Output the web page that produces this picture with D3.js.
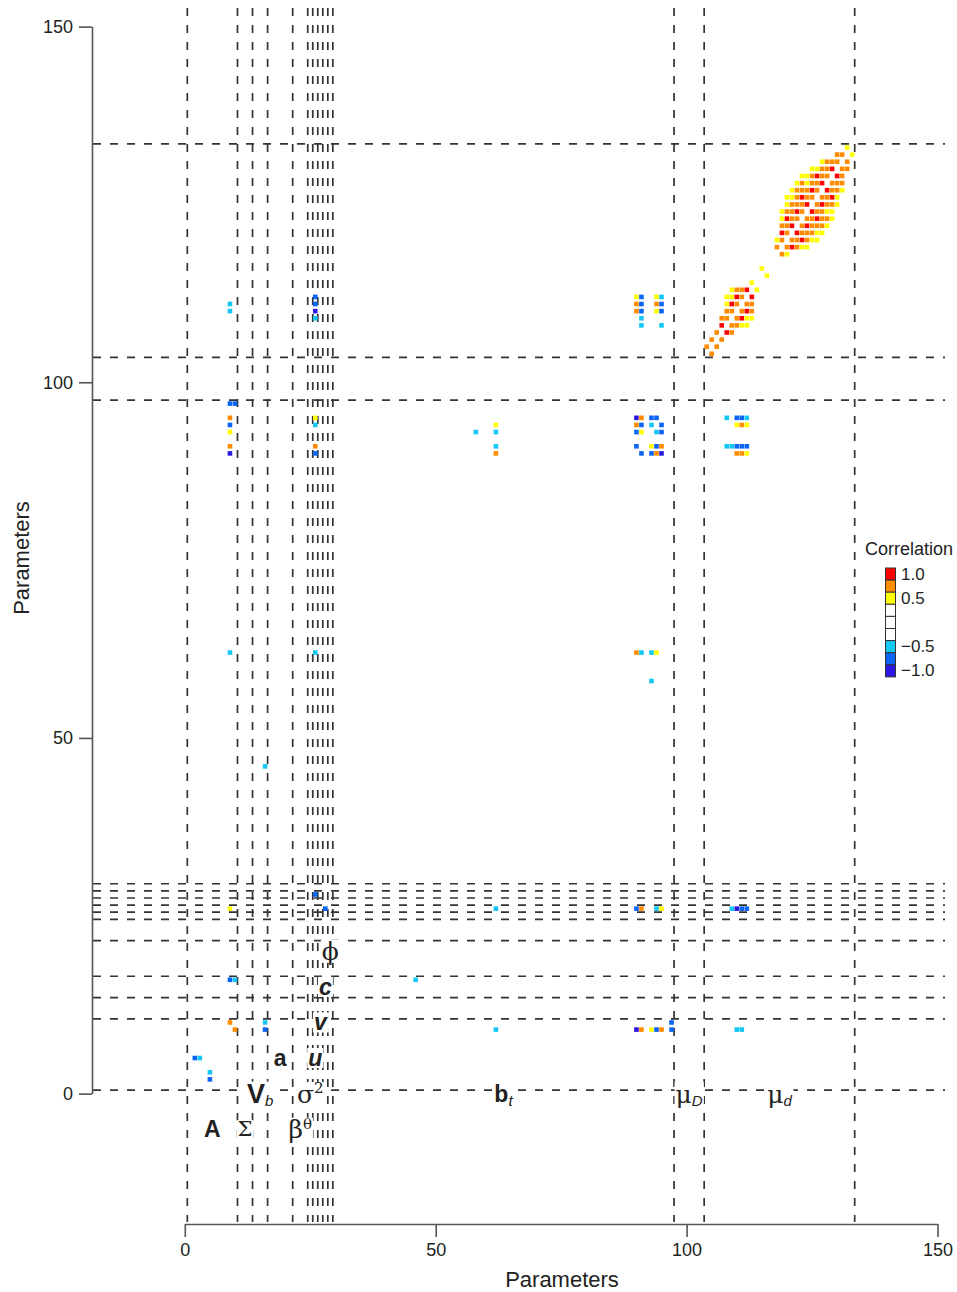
<!DOCTYPE html>
<html>
<head>
<meta charset="utf-8">
<script src="https://cdn.jsdelivr.net/npm/d3@7"></script>
<style>
  body { margin: 0; background: #fff; }
  text { font-family: "Liberation Sans", Arial, Helvetica, sans-serif; fill: #222; }
</style>
</head>
<body>
<svg id="chart" width="957" height="1292"></svg>
<script>
// parameter blocks (1-based parameter index)
const blockNames = ['A', 'Σ', 'V', 'a', 'β', 'σ', 'u', 'v', 'c', 'ϕ', 'b', 'μ', 'μ'];
const blockSub = ['', '', 'b', '', '', '', '', '', '', '', 't', 'D', 'd'];
const blockSup = ['', '', '', '', 'θ', '2', '', '', '', '', '', '', ''];
const blockFirst = [1, 11, 14, 17, 22, 25, 26, 27, 28, 29, 30, 98, 104];
const blockLast = [10, 13, 16, 21, 24, 25, 26, 27, 28, 29, 97, 103, 133];

const xTicks = [0, 50, 100, 150];
const yTicks = [0, 50, 100, 150];

const legendValues = [1.0, 0.75, 0.5, 0.25, 0, -0.25, -0.5, -0.75, -1.0];
const legendLabels = ['1.0', '', '0.5', '', '', '', '\u22120.5', '', '\u22121.0'];

// significant correlations, upper triangle only [param i, param j, r]; matrix is symmetric
const paramPairs = [
  [2, 5, -0.75], [3, 5, -0.5],
  [9, 10, 0.8],
  [9, 16, -0.75], [10, 16, -0.5],
  [9, 26, 0.5],
  [26, 28, -0.75],
  [16, 46, -0.5],
  [9, 62, -0.5], [26, 62, -0.5],
  [9, 90, -0.95], [9, 91, 0.7], [9, 93, 0.5], [9, 94, -0.75], [9, 95, 0.7], [9, 97, -0.75], [10, 97, -0.75],
  [9, 110, -0.5], [9, 111, -0.5],
  [26, 90, -0.75], [26, 91, 0.7], [26, 94, -0.5], [26, 95, 0.5],
  [26, 109, -0.5], [26, 110, -0.95], [26, 111, -0.75], [26, 112, -0.75],
  [58, 93, -0.5],
  [62, 90, 0.7], [62, 91, -0.5], [62, 93, -0.5], [62, 94, 0.5]
];
const btPairs = [
  [90, 91, -0.75], [90, 93, -0.75], [90, 94, 0.7], [90, 95, -0.95],
  [91, 93, 0.5], [91, 94, -0.75], [91, 95, 0.7],
  [93, 94, -0.5], [93, 95, -0.75], [94, 95, -0.75]
];
const btMuPairs = [
  [90, 110, 0.7], [90, 111, 0.7], [90, 112, 0.5],
  [91, 108, -0.5], [91, 109, -0.5], [91, 110, -0.75], [91, 111, -0.75], [91, 112, -0.75],
  [94, 110, 0.5], [94, 111, 0.7], [94, 112, 0.5],
  [95, 108, -0.5], [95, 110, -0.75], [95, 111, -0.75], [95, 112, -0.5]
];
const mudPairs = [
  [104, 105, 0.7], [105, 106, 0.7], [106, 107, 0.7], [107, 108, 0.9], [107, 109, 0.7],
  [108, 109, 0.7], [108, 110, 0.7], [108, 111, 0.5], [108, 112, 0.5],
  [109, 110, 0.7], [109, 111, 0.9], [109, 112, 0.5], [109, 113, 0.5],
  [110, 111, 0.7], [110, 112, 0.9], [110, 113, 0.7],
  [111, 112, 0.7], [111, 113, 0.7], [112, 113, 0.9],
  [113, 114, 0.5], [115, 116, 0.5],
  [118, 119, 0.7], [118, 120, 0.5],
  [119, 120, 0.7], [119, 121, 0.9], [119, 122, 0.7], [119, 123, 0.5], [119, 124, 0.5],
  [120, 121, 0.7], [120, 122, 0.7], [120, 123, 0.9], [120, 124, 0.7], [120, 125, 0.5], [120, 126, 0.5],
  [121, 122, 0.9], [121, 123, 0.7], [121, 124, 0.7], [121, 125, 0.7], [121, 126, 0.5], [121, 127, 0.5],
  [122, 123, 0.7], [122, 124, 0.9], [122, 125, 0.7], [122, 126, 0.7], [122, 127, 0.7], [122, 128, 0.5],
  [123, 124, 0.7], [123, 125, 0.7], [123, 126, 0.9], [123, 127, 0.7], [123, 128, 0.7], [123, 129, 0.5],
  [124, 125, 0.9], [124, 126, 0.7], [124, 127, 0.7], [124, 128, 0.5], [124, 129, 0.5],
  [125, 126, 0.7], [125, 127, 0.9], [125, 128, 0.7], [125, 129, 0.7], [125, 130, 0.5],
  [126, 127, 0.7], [126, 128, 0.7], [126, 129, 0.9], [126, 130, 0.5],
  [127, 128, 0.9], [127, 129, 0.7], [127, 130, 0.7], [127, 131, 0.5],
  [128, 129, 0.7], [128, 130, 0.7], [128, 131, 0.7],
  [129, 130, 0.9], [129, 131, 0.7],
  [130, 131, 0.7], [130, 132, 0.7],
  [131, 132, 0.7],
  [132, 133, 0.5]
];

// label placement (row in data units) and font per block
const labelRow = [-5, -5, 0, 5, -5, 0, 5, 10, 15, 20, 0, 0, 0];
const labelFont = ['bold', 'serif', 'bold', 'bold', 'serif', 'serif', 'bolditalic', 'bolditalic', 'bolditalic', 'serif', 'bold', 'serif', 'serif'];

const svg = d3.select('#chart');
svg.append('rect').attr('width', 957).attr('height', 1292).attr('fill', '#fff');

const x = d3.scaleLinear().domain([0, 150]).range([184.8, 937.5]);
const y = d3.scaleLinear().domain([0, 150]).range([1093.6, 26.6]);

const color = d3.scaleQuantize().domain([-1.125, 1.125])
  .range(['#2a18e0', '#0a64f5', '#14c8f5', '#ffffff', '#ffffff', '#ffffff', '#ffff00', '#ff8c00', '#ff0000']);

// block boundaries
const boundaries = [blockFirst[0] - 0.5].concat(blockLast.map(function(d) { return d + 0.5; }));

const grid = svg.append('g').attr('stroke', '#333').attr('stroke-width', 1.7).attr('stroke-dasharray', '8,9');
grid.selectAll('line.v').data(boundaries).enter().append('line').attr('class', 'v')
  .attr('x1', function(d) { return x(d); }).attr('x2', function(d) { return x(d); })
  .attr('y1', 8).attr('y2', 1222);
grid.selectAll('line.h').data(boundaries).enter().append('line').attr('class', 'h')
  .attr('y1', function(d) { return y(d); }).attr('y2', function(d) { return y(d); })
  .attr('x1', 93).attr('x2', 945);

// cells, both halves of the symmetric matrix
const allPairs = [].concat(paramPairs, btPairs, btMuPairs, mudPairs);
const cells = allPairs.flatMap(function(p) { return [[p[0], p[1], p[2]], [p[1], p[0], p[2]]]; });
const cs = 4.6;
svg.append('g').selectAll('rect').data(cells).enter().append('rect')
  .attr('x', function(d) { return x(d[0]) - cs / 2; })
  .attr('y', function(d) { return y(d[1]) - cs / 2; })
  .attr('width', cs).attr('height', cs)
  .attr('fill', function(d) { return color(d[2]); });

// block labels on white boxes
const labels = svg.append('g');
blockNames.forEach(function(name, i) {
  const f = labelFont[i];
  const g = labels.append('g');
  const t = g.append('text')
    .attr('x', x((blockFirst[i] + blockLast[i]) / 2))
    .attr('y', y(labelRow[i]))
    .attr('text-anchor', 'middle')
    .attr('dominant-baseline', 'central')
    .style('font-size', f === 'serif' ? '25px' : '23px')
    .style('font-family', f === 'serif' ? '"DejaVu Serif", "Liberation Serif", serif' : null)
    .style('font-weight', f.indexOf('bold') === 0 ? 'bold' : 'normal')
    .style('font-style', f === 'bolditalic' ? 'italic' : 'normal');
  t.append('tspan').text(name).style('font-size', name === 'V' ? '27px' : (name === 'Σ' ? '21px' : null));
  if (blockSub[i]) {
    t.append('tspan').text(blockSub[i]).attr('dy', '0.45em')
      .style('font-size', '15px').style('font-style', 'italic').style('font-weight', 'normal')
      .style('font-family', '"Liberation Sans", Arial, sans-serif');
  }
  if (blockSup[i]) {
    t.append('tspan').text(blockSup[i]).attr('dy', '-0.35em').style('font-size', '15px');
  }
  const bb = t.node().getBBox();
  g.insert('rect', 'text').attr('x', bb.x - 1).attr('y', bb.y + 3)
    .attr('width', bb.width + 2).attr('height', bb.height - 6).attr('fill', '#fff');
});

// axes
const yAxis = svg.append('g').attr('transform', 'translate(92,0)')
  .call(d3.axisLeft(y).tickValues(yTicks).tickSize(13).tickSizeOuter(0).tickPadding(6));
const xAxis = svg.append('g').attr('transform', 'translate(0,1224)')
  .call(d3.axisBottom(x).tickValues(xTicks).tickSize(13).tickSizeOuter(0).tickPadding(6));
[xAxis, yAxis].forEach(function(a) {
  a.select('.domain').attr('stroke', '#555').attr('stroke-width', 1.6);
  a.selectAll('.tick line').attr('stroke', '#555').attr('stroke-width', 1.6);
  a.selectAll('.tick text').style('font-size', '18px').style('font-family', '"Liberation Sans", Arial, sans-serif').attr('fill', '#222');
});

svg.append('text').attr('x', 562).attr('y', 1287).attr('text-anchor', 'middle')
  .style('font-size', '22px').text('Parameters');
svg.append('text').attr('transform', 'translate(29,558) rotate(-90)').attr('text-anchor', 'middle')
  .style('font-size', '22px').text('Parameters');

// legend
const legend = svg.append('g');
const boxH = 12.1;
legend.append('text').attr('x', 865).attr('y', 555).style('font-size', '18px').text('Correlation');
legend.selectAll('rect').data(legendValues).enter().append('rect')
  .attr('x', 885.5).attr('y', function(d, i) { return 568 + i * boxH; })
  .attr('width', 10).attr('height', boxH)
  .attr('fill', function(d) { return color(d); })
  .attr('stroke', '#333').attr('stroke-width', 1);
legend.selectAll('text.lab').data(legendLabels).enter().append('text').attr('class', 'lab')
  .attr('x', 901).attr('y', function(d, i) { return 568 + (i + 0.5) * boxH; })
  .attr('dominant-baseline', 'central')
  .style('font-size', '17px')
  .text(function(d) { return d; });
</script>
</body>
</html>
